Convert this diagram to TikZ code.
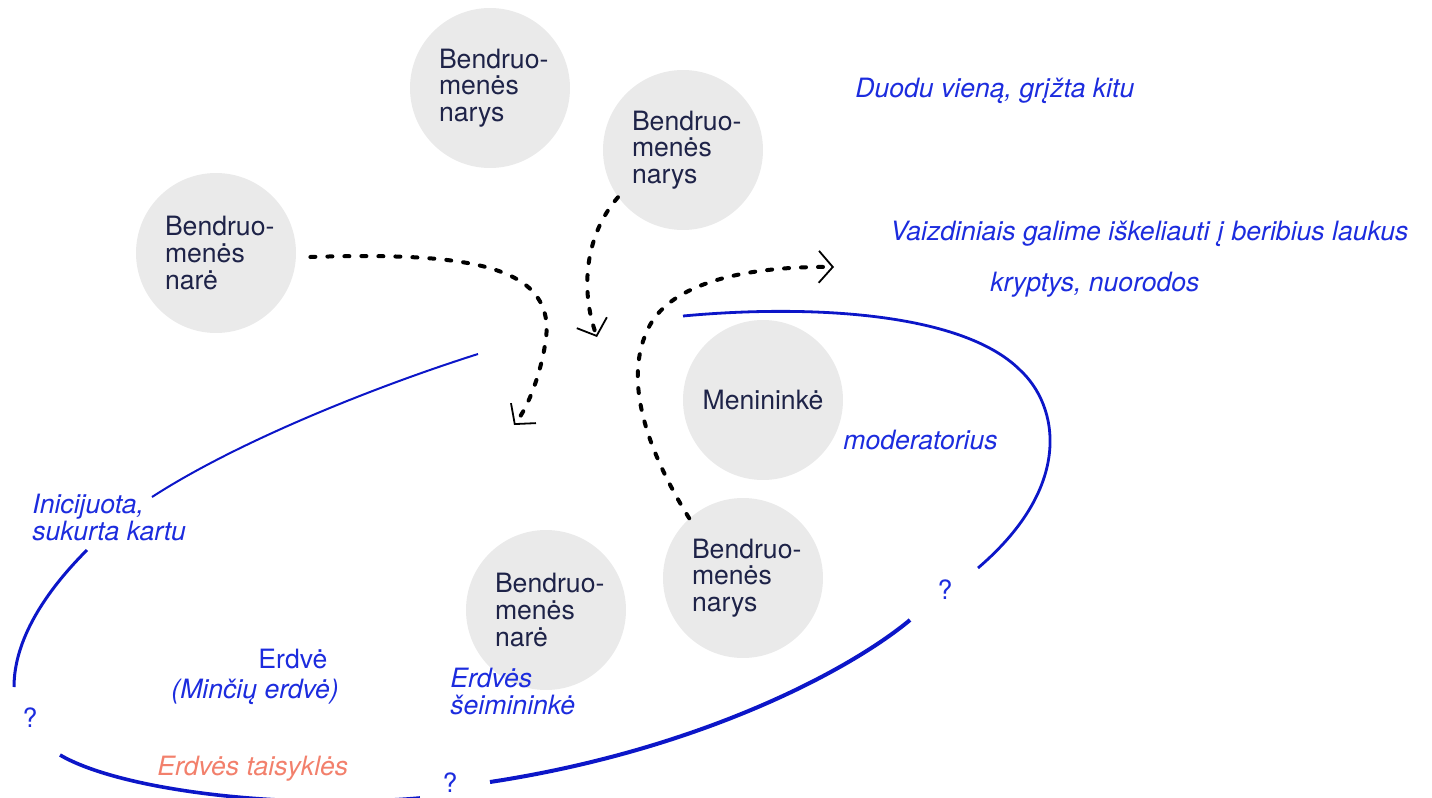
\documentclass[tikz,border=0pt]{standalone}
\usepackage{fontspec}
\setmainfont{TeX Gyre Heros}
\usetikzlibrary{arrows.meta}
\definecolor{circfill}{RGB}{234,234,234}
\definecolor{navy}{RGB}{30,35,72}
\definecolor{lineblue}{RGB}{12,22,200}
\definecolor{textblue}{RGB}{28,44,222}
\definecolor{salmon}{RGB}{242,128,108}

\begin{document}
\begin{tikzpicture}[x=0.5pt, y=-0.5pt,
  member/.style={circle, fill=circfill, minimum size=80pt, inner sep=0pt,
    text width=51pt, align=left, text=navy, font=\fontsize{13.3}{13.3}\selectfont},
  note/.style={text=textblue, font=\fontsize{13.3}{13.5}\selectfont\itshape,
    anchor=base west, inner sep=0pt, align=left},
  qmark/.style={text=textblue, font=\fontsize{13.3}{13.5}\selectfont, inner sep=0pt},
  flow/.style={draw=black, line width=2pt, line cap=round,
    dash pattern=on 2.5pt off 6pt,
    -{Straight Barb[length=7pt, width=16pt, line width=0.9pt]}},
  rim/.style={draw=lineblue}]
  \useasboundingbox (0,0) rectangle (1432,798);
  \clip (0,0) rectangle (1432,798);

  % bendruomenės nariai
  \node[member] (nare1) at (216,253) {\mbox{Bendruo-}\\menės\\narė};
  \node[member] (narys1) at (490,88) {\mbox{Bendruo-}\\menės\\narys};
  \node[member] (narys2) at (683,150) {\mbox{Bendruo-}\\menės\\narys};
  \node[member, text width=62pt, align=center] (artist) at (763,400) {Menininkė};
  \node[member] (narys3) at (743,578) {\mbox{Bendruo-}\\menės\\narys};
  \node[member] (nare2) at (546,610) {\mbox{Bendruo-}\\menės\\narė};

  % erdvės kontūras
  \draw[rim, line width=1pt] (478,354) .. controls (380,385) and (240,440) .. (152,497);
  \draw[rim, line width=1.5pt] (87,550) .. controls (45,592) and (14,640) .. (14,687);
  \draw[rim, line width=1.8pt] (60,755) .. controls (120,790) and (280,810) .. (420,798);
  \draw[rim, line width=2pt] (490,782) .. controls (700,750) and (850,670) .. (910,620);
  \draw[rim, line width=1.4pt] (978,568) .. controls (1075,485) and (1058,405) .. (1020,370)
    .. controls (960,310) and (800,305) .. (683,316);

  % užrašai
  \node[note] (give) at (855,97) {Duodu vieną, grįžta kitu};
  \node[note] (travel) at (890,240) {Vaizdiniais galime iškeliauti į beribius laukus};
  \node[note] (dirs) at (990,291) {kryptys, nuorodos};
  \node[note] (moder) at (843,449) {moderatorius};
  \node[note] (init) at (32,540) {Inicijuota,\\sukurta kartu};
  \node[note, font=\fontsize{13.3}{13.5}\selectfont] (space) at (258,668) {Erdvė};
  \node[note] (mind) at (171,698) {(Minčių erdvė)};
  \node[note] (host) at (450,714) {Erdvės\\šeimininkė};
  \node[note, text=salmon] (rules) at (157,775) {Erdvės taisyklės};
  \node[qmark] (q1) at (30,718) {?};
  \node[qmark] (q2) at (450,783) {?};
  \node[qmark] (q3) at (945,590) {?};

  % judėjimo kryptys
  \coordinate (end1) at (514,425);
  \coordinate (end2) at (597,337);
  \coordinate (end3) at (834,267);
  \draw[flow] ([xshift=7pt,yshift=-2pt]nare1.east) .. controls (470,252) and (560,265) .. (545,345)
    .. controls (541,370) and (530,405) .. (end1);
  \draw[flow] (narys2.216) .. controls (585,235) and (580,290) .. (end2);
  \draw[flow] (narys3.132) .. controls (650,455) and (620,380) .. (650,325)
    .. controls (672,285) and (740,266) .. (end3);
\end{tikzpicture}
\end{document}
